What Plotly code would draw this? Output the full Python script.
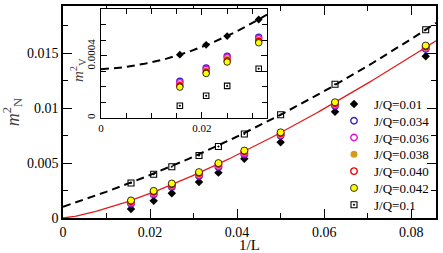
import numpy as np
import plotly.graph_objects as go

# ---------------- data ----------------
L_main = [64, 48, 40, 32, 28, 24, 20, 16, 12]
L_inset = [64, 48, 40, 32]

labels = ["J/Q=0.01", "J/Q=0.034", "J/Q=0.036", "J/Q=0.038", "J/Q=0.040", "J/Q=0.042", "J/Q=0.1"]

# main panel: m_N^2
mN_001 = [0.00082, 0.00156, 0.00226, 0.00328, 0.00413, 0.00539, 0.00690, 0.00967, 0.01473]
mN_0034 = [0.00130, 0.00214, 0.00283, 0.00382, 0.00464, 0.00578, 0.00750, 0.01021, 0.01539]
mN_0036 = [0.00138, 0.00222, 0.00291, 0.00391, 0.00473, 0.00587, 0.00757, 0.01029, 0.01547]
mN_0038 = [0.00145, 0.00230, 0.00298, 0.00400, 0.00482, 0.00596, 0.00765, 0.01037, 0.01555]
mN_0040 = [0.00153, 0.00239, 0.00306, 0.00409, 0.00491, 0.00605, 0.00772, 0.01046, 0.01562]
mN_0042 = [0.00160, 0.00247, 0.00314, 0.00418, 0.00500, 0.00614, 0.00780, 0.01054, 0.01570]
mN_01 = [0.00319, 0.00398, 0.00467, 0.00569, 0.00651, 0.00765, 0.00940, 0.01217, 0.01714]

# inset: m_V^2
mV_001 = [0.000408, 0.000472, 0.000528, 0.000635]
mV_0034 = [0.000237, 0.000322, 0.000399, 0.000521]
mV_0036 = [0.000228, 0.000314, 0.000390, 0.000513]
mV_0038 = [0.000218, 0.000304, 0.000380, 0.000504]
mV_0040 = [0.000208, 0.000295, 0.000370, 0.000495]
mV_0042 = [0.000199, 0.000287, 0.000361, 0.000485]
mV_01 = [0.0000788, 0.000143, 0.000207, 0.000318]

# fit parameters (curves)
fitN_01 = (0.00103, 0.1285, 0.778)      # a + b x + c x^2  (dashed)
fitN_crit = (0.4527, 1.357)             # A x^p            (red)
fitV_001 = (0.000314, 0.00177, 0.272)   # a + b x + c x^2  (inset dashed)

# ---------------- figure ----------------
x_main = [1.0 / L for L in L_main]
x_inset = [1.0 / L for L in L_inset]

XMAX, YMAX = 0.0857, 0.0193
IXMAX, IYMAX = 0.0329, 0.000703

xf = np.linspace(0, XMAX, 200)
xfi = np.linspace(0, IXMAX, 120)

FONT = "Liberation Serif"

styles = [
    dict(symbol="diamond", size=6.5, color="black", line=dict(width=0, color="black")),
    dict(symbol="circle-open", size=6.5, color="#3f1fbf", line=dict(width=1.4, color="#3f1fbf")),
    dict(symbol="circle-open", size=6.5, color="#e010e0", line=dict(width=1.4, color="#e010e0")),
    dict(symbol="circle", size=7, color="#d49b1a", line=dict(width=0, color="#d49b1a")),
    dict(symbol="circle-open", size=6.5, color="#ee0000", line=dict(width=1.4, color="#ee0000")),
    dict(symbol="circle", size=7, color="#ffff00", line=dict(width=0.8, color="black")),
    dict(symbol="square-open-dot", size=6, color="black", line=dict(width=1.1, color="black")),
]
main_series = [mN_001, mN_0034, mN_0036, mN_0038, mN_0040, mN_0042, mN_01]
inset_series = [mV_001, mV_0034, mV_0036, mV_0038, mV_0040, mV_0042, mV_01]

fig = go.Figure()

# fit lines, main
a, b, c = fitN_01
fig.add_trace(go.Scatter(x=xf, y=a + b * xf + c * xf ** 2, mode="lines",
                         line=dict(color="black", width=2, dash="8px,5px"),
                         showlegend=False, hoverinfo="skip"))
A, p = fitN_crit
fig.add_trace(go.Scatter(x=xf, y=A * xf ** p, mode="lines",
                         line=dict(color="#e41a1c", width=1.3),
                         showlegend=False, hoverinfo="skip"))
# fit line, inset
a, b, c = fitV_001
fig.add_trace(go.Scatter(x=xfi, y=a + b * xfi + c * xfi ** 2, mode="lines",
                         line=dict(color="black", width=2, dash="8px,5px"),
                         showlegend=False, hoverinfo="skip", xaxis="x2", yaxis="y2"))

legend_names = ["legend"] + ["legend%d" % i for i in range(2, 8)]
for i, (lab, st, ys) in enumerate(zip(labels, styles, main_series)):
    fig.add_trace(go.Scatter(x=x_main, y=ys, mode="markers", name=lab,
                             marker=st, legend=legend_names[i], showlegend=True))
for i, (lab, st, ys) in enumerate(zip(labels, styles, inset_series)):
    st2 = dict(st)
    st2["size"] = st["size"] - 0.5
    fig.add_trace(go.Scatter(x=x_inset, y=ys, mode="markers", name=lab,
                             marker=st2, showlegend=False, xaxis="x2", yaxis="y2"))

axis_common = dict(showline=True, linecolor="black", mirror="ticks", ticks="inside",
                   tickcolor="black", showgrid=False, zeroline=False,
                   tickfont=dict(family=FONT, size=14, color="black"))

layout = dict(
    width=443, height=253,
    margin=dict(l=63, r=7, t=6, b=35, autoexpand=False),
    paper_bgcolor="white", plot_bgcolor="white",
    font=dict(family=FONT, color="black"),
    xaxis=dict(range=[0, XMAX], domain=[0, 1], anchor="y", dtick=0.02, tick0=0,
               tickformat=".2~f", ticklen=9, tickwidth=1.2, linewidth=1.6,
               minor=dict(dtick=0.01, tick0=0, ticks="inside", ticklen=5, tickcolor="black", tickwidth=1.2),
               title=dict(text="1/L", font=dict(family=FONT, size=15, color="black"), standoff=2),
               automargin=False, **axis_common),
    yaxis=dict(range=[0, YMAX], domain=[0, 1], anchor="x", dtick=0.005, tick0=0,
               tickformat=".3~f", ticklen=9, tickwidth=1.2, linewidth=1.6,
               minor=dict(dtick=0.0025, tick0=0, ticks="inside", ticklen=5, tickcolor="black", tickwidth=1.2),
               title=dict(text="<i>m</i><sup>2</sup><sub>N</sub>", font=dict(family=FONT, size=18, color="#444"), standoff=4),
               automargin=False, **axis_common),
    xaxis2=dict(range=[0, IXMAX], domain=[0.1019, 0.547], anchor="y2", dtick=0.02, tick0=0,
                tickformat=".2~f", ticklen=6, tickwidth=1, linewidth=1.3,
                minor=dict(dtick=0.005, tick0=0, ticks="inside", ticklen=5, tickcolor="black", tickwidth=1),
                automargin=False,
                **{**axis_common, "tickfont": dict(family=FONT, size=11, color="black")}),
    yaxis2=dict(range=[0, IYMAX], domain=[0.4717, 0.986], anchor="x2", dtick=0.0004, tick0=0,
                tickformat=".4~f", tickangle=-90, ticklen=6, tickwidth=1, linewidth=1.3,
                minor=dict(dtick=0.0001, tick0=0, ticks="inside", ticklen=5, tickcolor="black", tickwidth=1),
                automargin=False,
                **{**axis_common, "tickfont": dict(family=FONT, size=11, color="black")}),
    annotations=[dict(text="<i>m</i><sup>2</sup><sub>V</sub>", xref="paper", yref="paper",
                      x=(78 - 63) / 373.0, y=(218 - 70) / 212.0, xanchor="center", yanchor="middle",
                      textangle=-90, showarrow=False,
                      font=dict(family=FONT, size=15, color="#444"))],
)

leg_x = (334 - 63) / 373.0
leg_y0 = (218 - 104) / 212.0
leg_step = 16.8 / 212.0
for i, nm in enumerate(legend_names):
    layout[nm] = dict(x=leg_x, xanchor="left", y=leg_y0 - i * leg_step, yanchor="middle",
                      bgcolor="rgba(0,0,0,0)", borderwidth=0,
                      font=dict(family=FONT, size=13, color="black"))

fig.update_layout(**layout)
fig.write_html("out.html", config={"displayModeBar": False},
               post_script="document.body.style.margin='0';document.body.style.overflow='hidden';")
